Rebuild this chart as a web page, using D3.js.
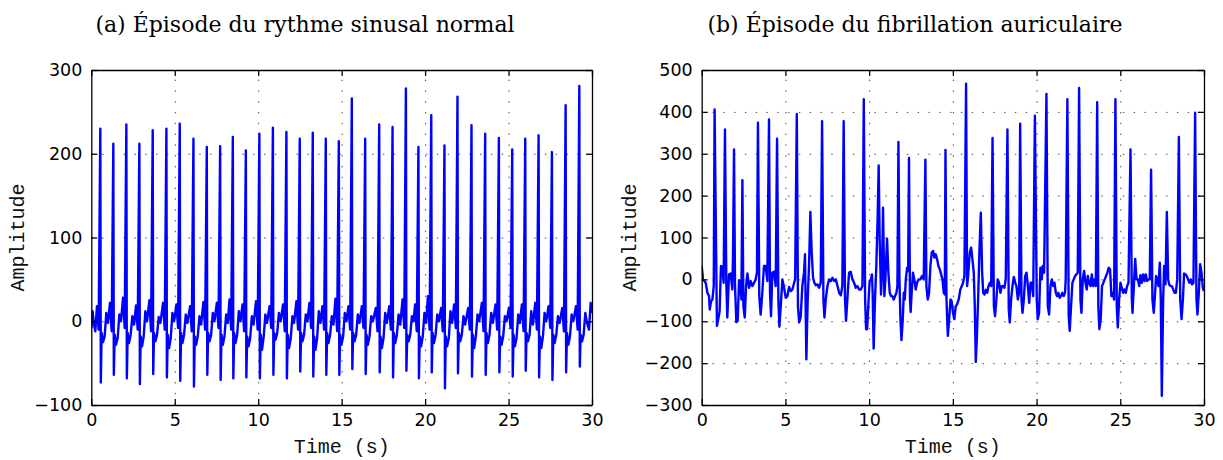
<!DOCTYPE html>
<html>
<head>
<meta charset="utf-8">
<script src="https://cdn.jsdelivr.net/npm/d3@7"></script>
<style>
  body { margin: 0; background: #fff; }
  svg { display: block; }
  .tick text { font-family: "DejaVu Sans", sans-serif; font-size: 17.5px; fill: #000; }
  .grid line { stroke: #444; stroke-width: 1; stroke-dasharray: 1.4 9.4; }
  .grid path { display: none; }
  .frame path, .frame line { stroke: #000; stroke-width: 1.3; }
  .title { font-family: "DejaVu Serif", serif; font-size: 22px; }
  .axlabel { font-family: "Liberation Mono", "Courier New", monospace; font-size: 20px; fill: #111; }
</style>
</head>
<body>
<svg id="chart"></svg>
<script>
// ---- data ----
const titles = ["(a) Épisode du rythme sinusal normal", "(b) Épisode du fibrillation auriculaire"];
const xTicks = [0, 5, 10, 15, 20, 25, 30];
const yTicksNormal = [-100, 0, 100, 200, 300];
const yTicksAF = [-300, -200, -100, 0, 100, 200, 300, 400, 500];

// normal sinus rhythm, [time s, amplitude]
const ecgNormal = [
  [0.00,-8],[0.08,12],[0.16,-4],[0.24,-12],
  [0.34,18],[0.44,-10],[0.54,230],[0.57,-73],[0.62,-14],[0.70,-25],[0.80,-18],[0.90,10],[1.00,-2],
  [1.12,22],[1.22,-12],[1.32,212],[1.35,-64],[1.40,-16],[1.48,-28],[1.58,-20],[1.68,8],[1.78,0],
  [1.90,28],[2.00,-8],[2.10,235],[2.13,-68],[2.18,-14],[2.26,-26],[2.36,-16],[2.46,6],[2.56,-4],
  [2.68,19],[2.78,-10],[2.88,212],[2.91,-75],[2.96,-18],[3.04,-30],[3.14,-18],[3.24,12],[3.34,0],
  [3.48,25],[3.58,-12],[3.68,228],[3.71,-63],[3.76,-14],[3.84,-24],[3.94,-16],[4.04,5],[4.14,-2],
  [4.30,22],[4.40,-10],[4.50,230],[4.53,-67],[4.58,-16],[4.66,-32],[4.76,-20],[4.86,10],[4.96,0],
  [5.10,20],[5.20,-8],[5.30,236],[5.33,-71],[5.38,-14],[5.46,-26],[5.56,-16],[5.66,8],[5.76,-2],
  [5.92,18],[6.02,-12],[6.12,218],[6.15,-78],[6.20,-18],[6.28,-28],[6.38,-18],[6.48,6],[6.58,-4],
  [6.72,23],[6.82,-10],[6.92,208],[6.95,-64],[7.00,-14],[7.08,-24],[7.18,-16],[7.28,10],[7.38,0],
  [7.52,22],[7.62,-8],[7.72,209],[7.75,-70],[7.80,-16],[7.88,-28],[7.98,-18],[8.08,8],[8.18,-2],
  [8.28,26],[8.38,-10],[8.48,220],[8.51,-68],[8.56,-14],[8.64,-26],[8.74,-16],[8.84,12],[8.94,0],
  [9.06,20],[9.16,-12],[9.26,204],[9.29,-67],[9.34,-18],[9.42,-30],[9.52,-20],[9.62,6],[9.72,-4],
  [9.87,24],[9.97,-10],[10.07,224],[10.10,-68],[10.15,-16],[10.23,-34],[10.33,-18],[10.43,8],[10.53,-2],
  [10.68,18],[10.78,-8],[10.88,231],[10.91,-64],[10.96,-14],[11.04,-22],[11.14,-14],[11.24,10],[11.34,0],
  [11.49,20],[11.59,-12],[11.69,226],[11.72,-68],[11.77,-16],[11.85,-32],[11.95,-20],[12.05,6],[12.15,-2],
  [12.29,24],[12.39,-10],[12.49,218],[12.52,-60],[12.57,-14],[12.65,-24],[12.75,-16],[12.85,8],[12.95,0],
  [13.07,22],[13.17,-8],[13.27,225],[13.30,-66],[13.35,-18],[13.43,-34],[13.53,-20],[13.63,12],[13.73,-2],
  [13.85,18],[13.95,-10],[14.05,218],[14.08,-64],[14.13,-14],[14.21,-26],[14.31,-16],[14.41,6],[14.51,-4],
  [14.63,27],[14.73,-12],[14.83,215],[14.86,-64],[14.91,-16],[14.99,-28],[15.09,-18],[15.19,10],[15.29,0],
  [15.41,18],[15.51,-10],[15.61,266],[15.64,-57],[15.69,-14],[15.77,-24],[15.87,-16],[15.97,8],[16.07,-2],
  [16.21,18],[16.31,-8],[16.41,218],[16.44,-63],[16.49,-16],[16.57,-28],[16.67,-18],[16.77,6],[16.87,0],
  [17.05,16],[17.15,-12],[17.25,235],[17.28,-61],[17.33,-18],[17.41,-32],[17.51,-20],[17.61,10],[17.71,-2],
  [17.85,18],[17.95,-10],[18.05,232],[18.08,-67],[18.13,-14],[18.21,-26],[18.31,-16],[18.41,8],[18.51,-4],
  [18.65,26],[18.75,-8],[18.85,278],[18.88,-59],[18.93,-16],[19.01,-24],[19.11,-16],[19.21,6],[19.31,0],
  [19.40,20],[19.50,-12],[19.60,208],[19.63,-68],[19.68,-18],[19.76,-30],[19.86,-18],[19.96,10],[20.06,-2],
  [20.17,30],[20.27,-10],[20.37,246],[20.40,-61],[20.45,-14],[20.53,-26],[20.63,-16],[20.73,8],[20.83,0],
  [20.96,16],[21.06,-12],[21.16,210],[21.19,-80],[21.24,-18],[21.32,-30],[21.42,-20],[21.52,12],[21.62,-2],
  [21.74,20],[21.84,-8],[21.94,268],[21.97,-62],[22.02,-14],[22.10,-24],[22.20,-16],[22.30,6],[22.40,-4],
  [22.58,16],[22.68,-10],[22.78,234],[22.81,-66],[22.86,-16],[22.94,-32],[23.04,-18],[23.14,8],[23.24,0],
  [23.40,22],[23.50,-12],[23.60,224],[23.63,-64],[23.68,-14],[23.76,-26],[23.86,-16],[23.96,10],[24.06,-2],
  [24.22,20],[24.32,-10],[24.42,219],[24.45,-61],[24.50,-18],[24.58,-28],[24.68,-18],[24.78,6],[24.88,0],
  [25.02,16],[25.12,-8],[25.22,205],[25.25,-66],[25.30,-16],[25.38,-30],[25.48,-20],[25.58,8],[25.68,-2],
  [25.80,20],[25.90,-12],[26.00,218],[26.03,-59],[26.08,-14],[26.16,-24],[26.26,-16],[26.36,12],[26.46,-4],
  [26.60,22],[26.70,-10],[26.80,222],[26.83,-67],[26.88,-18],[26.96,-32],[27.06,-18],[27.16,10],[27.26,0],
  [27.40,18],[27.50,-8],[27.60,202],[27.63,-70],[27.68,-16],[27.76,-26],[27.86,-16],[27.96,6],[28.06,-2],
  [28.22,16],[28.32,-12],[28.42,258],[28.45,-61],[28.50,-14],[28.58,-28],[28.68,-18],[28.78,8],[28.88,0],
  [29.04,18],[29.14,-10],[29.24,281],[29.27,-54],[29.32,-16],[29.40,-24],[29.50,-16],[29.60,10],[29.70,-2],
  [29.82,-10],[29.92,22],[30.00,10]
];

// atrial fibrillation, [time s, amplitude]
const ecgAF = [
  [0.00,33],[0.08,0],[0.24,-8],[0.34,-32],[0.44,-40],[0.48,-72],[0.56,-52],[0.64,-48],[0.72,-16],
  [0.77,406],[0.91,-111],[0.99,-95],[1.07,-76],[1.15,32],[1.23,30],[1.31,-8],
  [1.39,358],[1.47,-8],[1.53,-91],[1.63,12],[1.73,14],[1.83,-24],[1.87,60],
  [1.93,310],[1.99,-16],[2.07,-102],[2.15,-99],[2.23,-2],[2.31,-4],[2.37,-48],
  [2.43,237],[2.49,-64],[2.57,-91],[2.65,-16],[2.73,14],[2.83,-20],[2.93,-4],[3.03,-16],[3.13,-8],[3.22,0],[3.30,16],
  [3.36,374],[3.44,-40],[3.52,-84],[3.62,-32],[3.72,32],[3.82,32],[3.92,-4],
  [4.02,382],[4.08,-32],[4.14,-88],[4.22,16],[4.32,18],[4.42,-16],
  [4.50,336],[4.58,-48],[4.64,-113],[4.72,-64],[4.82,0],[4.92,-20],[5.02,-44],[5.12,-40],[5.22,-18],[5.32,-28],[5.42,-24],[5.52,-8],[5.58,0],
  [5.68,395],[5.75,-64],[5.82,-103],[5.91,-91],[6.01,-16],[6.11,16],[6.17,60],[6.25,-191],[6.33,-48],[6.41,32],
  [6.49,161],[6.57,64],[6.65,4],[6.73,-8],[6.81,-14],[6.91,-12],[7.01,-20],[7.11,-8],
  [7.19,378],[7.27,-48],[7.33,-91],[7.41,-48],[7.51,-16],[7.61,0],[7.71,-4],[7.81,4],[7.91,-4],[8.01,0],[8.11,-16],[8.21,-32],[8.31,-38],[8.40,-16],
  [8.48,378],[8.56,-48],[8.62,-99],[8.70,-48],[8.80,16],[8.90,18],[9.00,0],[9.10,-8],[9.20,-20],[9.30,-16],[9.40,-24],[9.50,-24],[9.60,-16],
  [9.68,430],[9.76,-48],[9.82,-119],[9.88,-119],[9.97,-48],[10.03,-4],[10.11,0],[10.17,12],[10.21,-32],[10.27,-165],[10.35,-48],[10.43,32],[10.51,151],
  [10.57,272],[10.63,95],[10.71,-36],[10.77,16],[10.83,171],[10.91,-40],[10.97,0],[11.07,97],[11.15,16],[11.23,-32],[11.31,-40],[11.39,-40],[11.47,-48],[11.55,-40],[11.63,-32],[11.69,-16],
  [11.75,328],[11.81,0],[11.87,-95],[11.93,-145],[12.01,-95],[12.07,-32],[12.13,-48],[12.19,0],[12.27,28],[12.33,20],
  [12.38,290],[12.44,-48],[12.48,-78],[12.54,-32],[12.62,16],[12.70,0],[12.78,-24],[12.86,-8],[12.96,0],[13.06,0],[13.16,8],[13.26,0],
  [13.36,286],[13.42,-16],[13.50,-48],[13.58,-32],[13.66,32],[13.74,64],[13.82,68],[13.90,52],[13.98,60],[14.06,48],[14.14,32],[14.22,24],[14.30,12],[14.38,0],[14.46,-32],[14.52,-36],
  [14.56,309],[14.62,-48],[14.70,-135],[14.78,-95],[14.86,-48],[14.93,-52],[15.01,-80],[15.09,-95],[15.17,-64],[15.25,-60],[15.35,-48],[15.45,-24],[15.53,-16],[15.61,-8],[15.69,8],
  [15.79,467],[15.85,-16],[15.91,8],[16.01,64],[16.09,76],[16.17,48],[16.25,16],[16.31,-64],[16.37,-197],[16.43,-143],[16.51,-48],[16.59,72],
  [16.67,159],[16.75,16],[16.81,-32],[16.89,-36],[16.97,-25],[17.05,-32],[17.13,-16],[17.21,-8],[17.29,-16],
  [17.37,338],[17.45,-64],[17.52,-88],[17.60,-48],[17.68,0],[17.76,-8],[17.84,-32],[17.92,-16],[18.00,-16],[18.08,-20],[18.16,0],
  [18.26,358],[18.34,-72],[18.40,-103],[18.48,-48],[18.56,-16],[18.64,6],[18.72,-8],[18.80,-16],[18.88,-48],[18.96,-32],
  [19.02,372],[19.10,-48],[19.16,-80],[19.24,-48],[19.32,8],[19.40,16],[19.48,-16],[19.56,-56],[19.64,-8],[19.72,-8],[19.80,-40],
  [19.90,391],[20.01,-48],[20.07,-95],[20.15,-80],[20.23,28],[20.31,0],[20.37,32],[20.45,16],
  [20.59,443],[20.67,-64],[20.75,-84],[20.83,-16],[20.91,0],[20.99,-16],[21.07,-8],[21.15,-32],[21.22,-40],[21.30,-32],[21.38,-44],[21.46,-40],[21.54,-32],[21.62,-40],[21.70,-32],[21.74,0],
  [21.84,430],[21.92,-88],[21.98,-123],[22.06,-64],[22.14,-8],[22.22,0],[22.30,8],[22.38,12],[22.46,16],
  [22.54,457],[22.62,-48],[22.68,-80],[22.76,0],[22.84,20],[22.92,-8],[23.00,-24],[23.06,8],[23.14,-8],[23.22,-16],[23.30,12],[23.38,-16],[23.46,0],[23.54,-16],
  [23.62,423],[23.69,-64],[23.75,-119],[23.83,-95],[23.91,-16],[23.99,-8],[24.07,0],[24.15,8],[24.23,16],[24.31,28],[24.39,24],[24.47,-40],[24.55,-32],[24.63,-48],
  [24.71,430],[24.79,-64],[24.85,-115],[24.93,-48],[25.01,-8],[25.09,-20],[25.17,-32],[25.25,-24],[25.33,-32],[25.41,-16],[25.49,-8],
  [25.61,310],[25.69,-48],[25.73,-80],[25.81,-16],[25.89,49],[25.97,0],[26.05,0],[26.13,-16],[26.20,10],[26.28,-8],[26.36,12],[26.44,-4],[26.52,12],[26.60,-4],[26.68,0],[26.76,0],
  [26.84,262],[26.92,-48],[27.00,-80],[27.08,-32],[27.14,8],[27.20,0],[27.28,-16],[27.36,40],[27.42,-48],[27.48,-278],[27.56,-48],[27.62,32],[27.70,-12],
  [27.78,161],[27.86,0],[27.92,-12],[28.00,-16],[28.08,-16],[28.16,-24],[28.24,-32],[28.32,-32],[28.40,0],
  [28.50,340],[28.58,-48],[28.66,-95],[28.74,-48],[28.81,14],[28.89,12],[28.97,8],[29.05,0],[29.13,-8],[29.21,0],[29.29,-12],[29.37,-8],
  [29.47,398],[29.55,-48],[29.61,-84],[29.69,-32],[29.77,36],[29.85,16],[29.93,-20],[29.99,-28]
];

// ---- drawing ----
const width = 1223, height = 460;
const svg = d3.select("#chart").attr("width", width).attr("height", height);

const panels = [
  { left: 91.3, right: 592, top: 70, bottom: 405, yDomain: [-100, 300], yTicks: yTicksNormal,
    data: ecgNormal, title: titles[0], titleX: 305, labelX: 24 },
  { left: 701.7, right: 1204, top: 70, bottom: 405, yDomain: [-300, 500], yTicks: yTicksAF,
    data: ecgAF, title: titles[1], titleX: 915, labelX: 636 }
];

panels.forEach((p, i) => {
  const x = d3.scaleLinear().domain([0, 30]).range([p.left, p.right]);
  const y = d3.scaleLinear().domain(p.yDomain).range([p.bottom, p.top]);
  const w = p.right - p.left, h = p.bottom - p.top;
  const g = svg.append("g");

  // dotted grid
  g.append("g").attr("class", "grid")
    .attr("transform", `translate(0,${p.bottom})`)
    .call(d3.axisBottom(x).tickValues(xTicks.slice(1, -1)).tickSize(-h).tickFormat(""));
  g.append("g").attr("class", "grid")
    .attr("transform", `translate(${p.left},0)`)
    .call(d3.axisLeft(y).tickValues(p.yTicks.slice(1, -1)).tickSize(-w).tickFormat(""));

  // signal
  const clipId = "clip" + i;
  svg.append("clipPath").attr("id", clipId).append("rect")
    .attr("x", p.left).attr("y", p.top).attr("width", w).attr("height", h);
  const line = d3.line().x(d => x(d[0])).y(d => y(d[1]));
  g.append("path")
    .datum(p.data)
    .attr("clip-path", `url(#${clipId})`)
    .attr("d", line)
    .attr("fill", "none")
    .attr("stroke", "#0000ff")
    .attr("stroke-width", 2.4)
    .attr("stroke-linejoin", "round");

  // axes with inward ticks, all four sides
  g.append("g").attr("class", "frame")
    .attr("transform", `translate(0,${p.bottom})`)
    .call(d3.axisBottom(x).tickValues(xTicks).tickSizeInner(-6).tickSizeOuter(0).tickPadding(9).tickFormat(d3.format("d")));
  g.append("g").attr("class", "frame")
    .attr("transform", `translate(${p.left},0)`)
    .call(d3.axisLeft(y).tickValues(p.yTicks).tickSizeInner(-6).tickSizeOuter(0).tickPadding(9).tickFormat(d3.format("d")));
  g.append("g").attr("class", "frame")
    .attr("transform", `translate(0,${p.top})`)
    .call(d3.axisTop(x).tickValues(xTicks).tickSizeInner(-6).tickSizeOuter(0).tickFormat(""));
  g.append("g").attr("class", "frame")
    .attr("transform", `translate(${p.right},0)`)
    .call(d3.axisRight(y).tickValues(p.yTicks).tickSizeInner(-6).tickSizeOuter(0).tickFormat(""));

  // titles and labels
  svg.append("text").attr("class", "title")
    .attr("x", p.titleX).attr("y", 32).attr("text-anchor", "middle").text(p.title);
  svg.append("text").attr("class", "axlabel")
    .attr("x", (p.left + p.right) / 2).attr("y", 453).attr("text-anchor", "middle").text("Time (s)");
  svg.append("text").attr("class", "axlabel")
    .attr("transform", `translate(${p.labelX},${(p.top + p.bottom) / 2}) rotate(-90)`)
    .attr("text-anchor", "middle").text("Amplitude");
});
</script>
</body>
</html>
